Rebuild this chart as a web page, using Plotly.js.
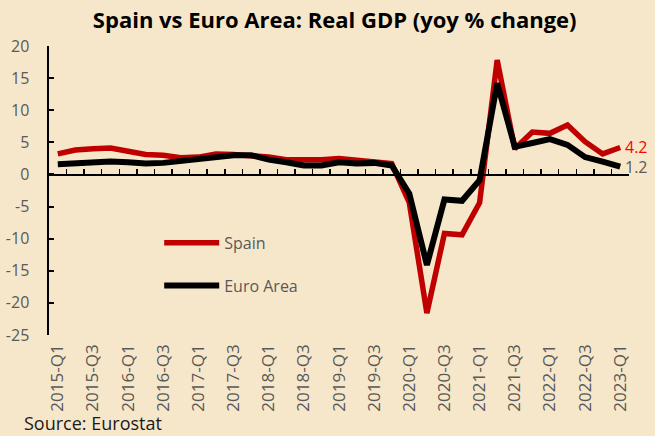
<!DOCTYPE html>
<html>
<head>
<meta charset="utf-8">
<script src="https://cdn.plot.ly/plotly-3.0.1.min.js"></script>
<style>html,body{margin:0;padding:0;background:#F6E7CB;}#chart{width:655px;height:436px;}</style>
</head>
<body>
<div id="chart"></div>
<script>
var quarters = ["2015-Q1","2015-Q2","2015-Q3","2015-Q4","2016-Q1","2016-Q2","2016-Q3","2016-Q4",
"2017-Q1","2017-Q2","2017-Q3","2017-Q4","2018-Q1","2018-Q2","2018-Q3","2018-Q4",
"2019-Q1","2019-Q2","2019-Q3","2019-Q4","2020-Q1","2020-Q2","2020-Q3","2020-Q4",
"2021-Q1","2021-Q2","2021-Q3","2021-Q4","2022-Q1","2022-Q2","2022-Q3","2022-Q4","2023-Q1"];
var spain = [3.2,3.8,4.0,4.1,3.6,3.1,3.0,2.6,2.7,3.2,3.1,3.0,2.7,2.3,2.2,2.3,2.5,2.3,2.1,1.7,
-4.4,-21.6,-9.2,-9.4,-4.4,17.8,4.0,6.6,6.4,7.7,5.1,3.2,4.2];
var euroArea = [1.6,1.8,1.9,2.0,1.9,1.7,1.8,2.1,2.3,2.7,3.0,3.0,2.3,1.9,1.4,1.4,1.9,1.7,1.8,1.4,
-3.0,-14.1,-3.9,-4.1,-0.9,14.2,4.3,4.9,5.5,4.6,2.7,2.0,1.2];
var tickLabels = quarters.filter(function(q,i){return i%2===0;});
var yTicks = [-25,-20,-15,-10,-5,0,5,10,15,20];

var bg = "#F6E7CB";
var grey = "#595959";
var font = "'Open Sans', sans-serif";

var last = quarters.length - 1;
var traces = [
  {x: quarters, y: spain, name: "Spain", type: "scatter", mode: "lines",
   line: {color: "#C00000", width: 5.5}, legendgroup: "a", hoverinfo: "none"},
  {x: quarters, y: euroArea, name: "Euro Area", type: "scatter", mode: "lines",
   line: {color: "#000000", width: 6}, legendgroup: "b", hoverinfo: "none"},
  {x: quarters, y: euroArea.map(function(){return null;}), xaxis: "x2", type: "scatter",
   mode: "lines", showlegend: false, hoverinfo: "none"}
];

var layout = {
  width: 655, height: 436,
  paper_bgcolor: bg, plot_bgcolor: bg,
  margin: {l: 49, r: 26, t: 46, b: 101},
  font: {family: font, color: grey},
  title: {text: "Spain vs Euro Area: Real GDP (yoy % change)",
          font: {family: font, size: 22, color: "#000000", weight: "bold"},
          xref: "container", x: 0.511, xanchor: "center", yref: "container", y: 0.953, yanchor: "middle"},
  showlegend: true,
  legend: {x: 0.19, y: 0.378, xanchor: "left", yanchor: "top", bgcolor: "rgba(0,0,0,0)",
           itemwidth: 55,
           font: {family: font, size: 16, color: grey}, traceorder: "grouped", tracegroupgap: 19},
  xaxis: {type: "category", categoryorder: "array", categoryarray: quarters,
          range: [-0.5, last + 0.5], tickmode: "array", tickvals: tickLabels, ticktext: tickLabels,
          tickangle: -90, tickfont: {family: font, size: 17, color: grey},
          showline: false, ticks: "", showgrid: false, zeroline: false, ticklabelstandoff: 5},
  xaxis2: {type: "category", categoryorder: "array", categoryarray: quarters,
           overlaying: "x", anchor: "free", position: 25/45, side: "bottom",
           range: [-0.5, last + 0.5], showline: true, linecolor: "#000000", linewidth: 1.5,
           ticks: "inside", tickson: "boundaries", ticklen: 5, tickwidth: 1.5, tickcolor: "#000000",
           showticklabels: false, showgrid: false, zeroline: false},
  yaxis: {range: [-25, 20], tickmode: "array", tickvals: yTicks, ticktext: yTicks.map(String),
          showline: true, linecolor: "#000000", linewidth: 2.5, ticks: "inside", ticklen: 5,
          tickwidth: 2, tickcolor: "#000000", showgrid: false, zeroline: false,
          tickfont: {family: font, size: 16, color: grey}, ticklabelstandoff: 14},
  annotations: [
    {x: quarters[last], y: spain[last], xref: "x", yref: "y", text: String(spain[last]),
     showarrow: false, xanchor: "left", yanchor: "middle", xshift: 3,
     font: {family: font, size: 16, color: "#FF0000"}},
    {x: quarters[last], y: euroArea[last], xref: "x", yref: "y", text: String(euroArea[last]),
     showarrow: false, xanchor: "left", yanchor: "middle", xshift: 3,
     font: {family: font, size: 16, color: grey}},
    {x: -0.047, y: -0.306, xref: "paper", yref: "paper", text: "Source: Eurostat",
     showarrow: false, xanchor: "left", yanchor: "middle",
     font: {family: font, size: 18, color: "#1A1A1A"}}
  ]
};

Plotly.newPlot("chart", traces, layout, {displayModeBar: false, staticPlot: true});
</script>
</body>
</html>
